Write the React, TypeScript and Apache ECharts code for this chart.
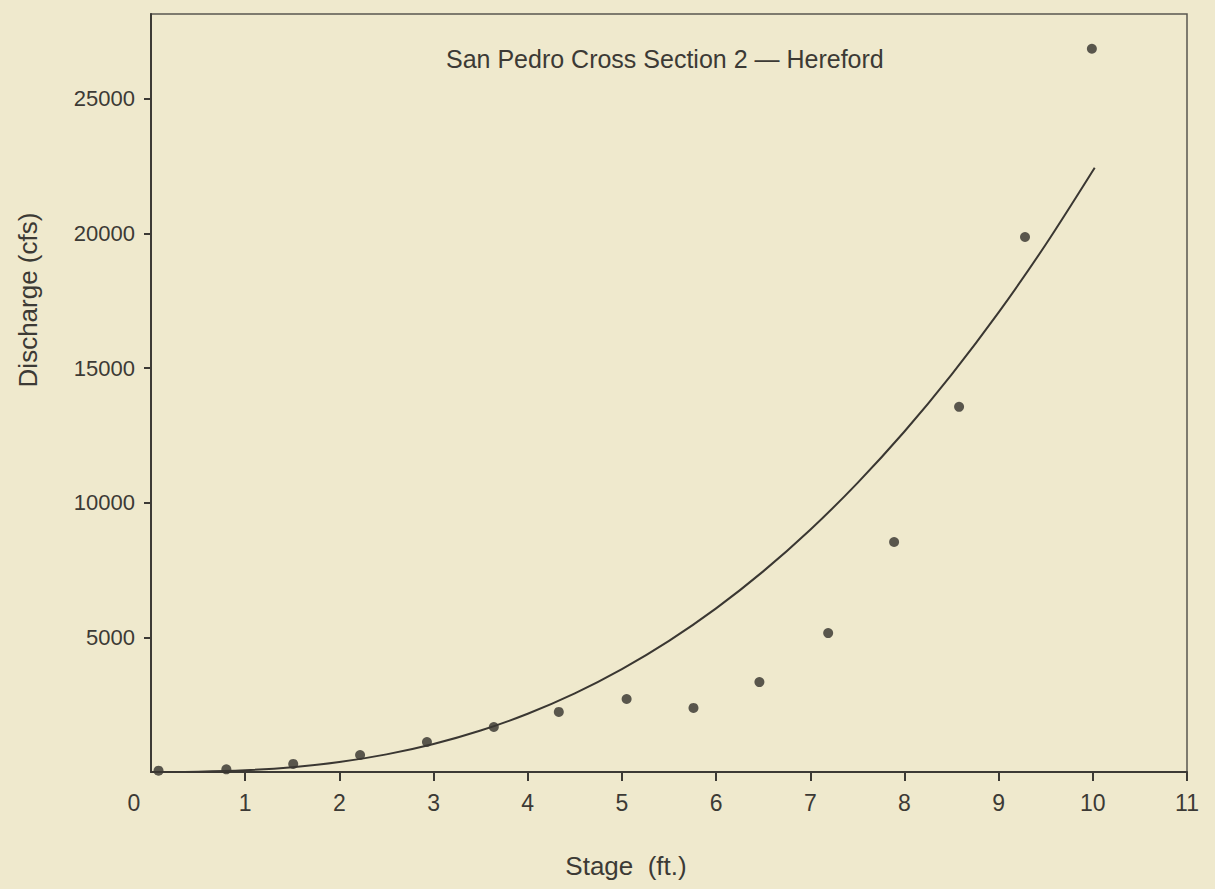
import React, { useEffect, useRef } from "react";
import * as echarts from "echarts";

const titleText = "San Pedro Cross Section 2 — Hereford";
const xAxisName = "Stage  (ft.)";
const yAxisName = "Discharge (cfs)";

// observed points (stage ft, discharge cfs)
const stage = [0.08, 0.8, 1.51, 2.22, 2.93, 3.64, 4.33, 5.05, 5.76, 6.46, 7.19, 7.89, 8.58, 9.28, 9.99];
const discharge = [50, 100, 300, 630, 1115, 1670, 2230, 2710, 2380, 3340, 5160, 8540, 13560, 19870, 26860];

// rating curve
const curveStage = [0, 0.5, 1, 1.5, 2, 2.5, 3, 3.5, 4, 4.5, 5, 5.5, 6, 6.5, 7, 7.5, 8, 8.5, 9, 9.5, 10.02];
const curveDischarge = [0, 11, 63, 178, 370, 654, 1040, 1540, 2164, 2920, 3820, 4870, 6077, 7450, 8996, 10730, 12645, 14760, 17070, 19590, 22440];

const xTicks = [1, 2, 3, 4, 5, 6, 7, 8, 9, 10, 11];
const yTicks = [5000, 10000, 15000, 20000, 25000];

const BG = "#efe9cd";
const INK = "#3c3a35";
const FONT = "Liberation Sans, Arial, Helvetica, sans-serif";

export default function App() {
  const ref = useRef<HTMLDivElement>(null);
  useEffect(() => {
    document.body.style.margin = "0";
    document.body.style.background = BG;
    const chart = echarts.init(ref.current!, null, { renderer: "svg" });
    chart.setOption({
      animation: false,
      backgroundColor: BG,
      textStyle: { fontFamily: FONT },
      grid: {
        left: 151,
        right: 28,
        top: 14,
        bottom: 117,
        show: true,
        borderColor: "#5a5750",
        borderWidth: 1.5,
        backgroundColor: "transparent",
      },
      graphic: [
        {
          type: "text",
          left: 446,
          top: 46,
          style: { text: titleText, font: `25px ${FONT}`, fill: INK },
        },
        {
          type: "text",
          x: 134,
          y: 803,
          style: { text: "0", font: `23px ${FONT}`, fill: INK, align: "center", verticalAlign: "middle" },
        },
        {
          type: "text",
          x: 28,
          y: 300,
          rotation: Math.PI / 2,
          style: { text: yAxisName, font: `26px ${FONT}`, fill: INK, align: "center", verticalAlign: "middle" },
        },
        {
          type: "text",
          x: 626,
          y: 866,
          style: { text: xAxisName, font: `26px ${FONT}`, fill: INK, align: "center", verticalAlign: "middle" },
        },
      ],
      xAxis: {
        type: "value",
        min: 0,
        max: 11,
        interval: 1,
        splitLine: { show: false },
        axisLine: { show: true, onZero: false, lineStyle: { color: INK, width: 2 } },
        axisTick: { show: true, length: 9, customValues: xTicks, lineStyle: { color: INK, width: 2 } },
        axisLabel: {
          customValues: xTicks,
          margin: 19,
          fontSize: 23,
          color: INK,
          fontFamily: FONT,
          formatter: (v: number) => String(v),
        },
      },
      yAxis: {
        type: "value",
        min: 0,
        max: 28150,
        interval: 5000,
        splitLine: { show: false },
        axisLine: { show: true, onZero: false, lineStyle: { color: INK, width: 2 } },
        axisTick: { show: true, length: 7, customValues: yTicks, lineStyle: { color: INK, width: 2 } },
        axisLabel: {
          customValues: yTicks,
          margin: 16,
          fontSize: 22,
          color: INK,
          fontFamily: FONT,
          formatter: (v: number) => String(v),
        },
      },
      series: [
        {
          type: "line",
          data: curveStage.map((s, i) => [s, curveDischarge[i]]),
          showSymbol: false,
          smooth: 0.3,
          lineStyle: { color: "#3a3732", width: 2 },
          clip: true,
        },
        {
          type: "scatter",
          data: stage.map((s, i) => [s, discharge[i]]),
          symbolSize: 10,
          itemStyle: { color: "#33312c" },
          clip: false,
        },
      ],
    });
    return () => chart.dispose();
  }, []);
  return (
    <div
      ref={ref}
      style={{ position: "absolute", left: 0, top: 0, width: 1215, height: 889 }}
    />
  );
}
